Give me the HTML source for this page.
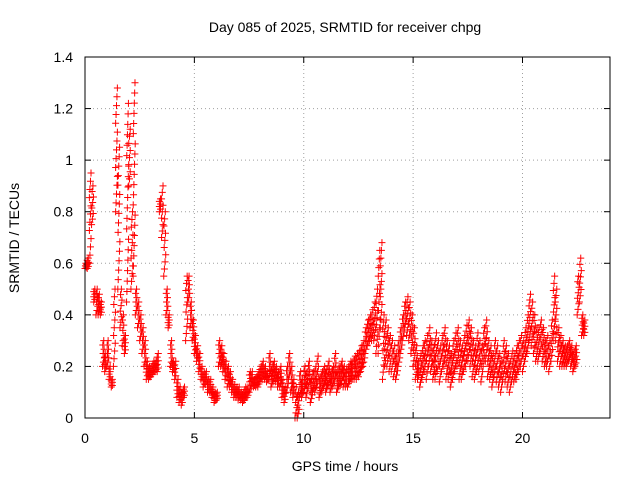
<!DOCTYPE html>
<html><head><meta charset="utf-8"><style>
html,body{margin:0;padding:0;background:#fff;}
svg{display:block;font-family:"Liberation Sans",sans-serif;}
</style></head><body>
<svg id="chart" width="640" height="480">
<text x="345" y="32" font-size="14" text-anchor="middle">Day 085 of 2025, SRMTID for receiver chpg</text>
<text x="345" y="471" font-size="14" text-anchor="middle">GPS time / hours</text>
<text x="19" y="238" font-size="14" text-anchor="middle" transform="rotate(-90 19 238)">SRMTID / TECUs</text>
<g id="grid"></g>
<g id="ticks"></g>
<g id="points"></g>
<rect x="85" y="57" width="525" height="361" fill="none" stroke="#000" stroke-width="1"></rect>
</svg>
<script>
const xTicks=[0,5,10,15,20];
const yTicks=[0,0.2,0.4,0.6,0.8,1,1.2,1.4];
const yTickLabels=["0","0.2","0.4","0.6","0.8","1","1.2","1.4"];
const tStart=0, tStep=0.1;
const hiVals=[.60,.62,.95,.90,.50,.50,.48,.45,.30,.25,.30,.20,.15,.50,1.28,1.05,.50,.40,.32,1.22,1.12,.80,1.30,.50,.45,.40,.35,.30,.22,.20,.20,.22,.22,.25,.85,.90,.80,.50,.40,.30,.22,.22,.15,.12,.10,.12,.55,.55,.45,.38,.32,.28,.25,.20,.18,.18,.15,.15,.12,.10,.10,.30,.28,.25,.22,.20,.18,.15,.13,.12,.12,.10,.10,.12,.12,.18,.18,.15,.16,.18,.20,.22,.20,.18,.25,.20,.22,.20,.18,.20,.15,.12,.20,.25,.20,.15,.12,.10,.18,.15,
.20,.18,.22,.15,.18,.20,.24,.16,.18,.20,.19,.22,.18,.20,.25,.18,.20,.22,.20,.19,
.20,.22,.22,.24,.25,.26,.28,.30,.35,.38,.40,.42,.45,.50,.65,.68,.40,.38,.35,.32,.30,.28,.25,.30,.35,.40,.45,.47,.45,.40,.35,.28,.22,.25,.28,.30,.32,.35,.30,.28,
.33,.30,.28,.32,.35,.30,.28,.25,.30,.33,.35,.30,.28,.32,.36,.38,.35,.30,.28,.33,.30,.28,.35,.38,.30,.28,.25,.30,.28,.25,.22,.30,.28,.25,.22,.26,.25,.28,.30,.32,
.30,.35,.40,.48,.45,.40,.35,.35,.38,.35,.30,.32,.30,.38,.55,.50,.35,.32,.30,.28,.28,.30,.28,.26,.28,.55,.62,.40,.38];
const loVals=[.58,.58,.60,.75,.45,.40,.40,.40,.20,.18,.20,.15,.12,.20,.80,.50,.35,.28,.25,.45,.90,.50,.55,.40,.35,.30,.25,.20,.15,.15,.16,.17,.18,.18,.80,.70,.55,.40,.35,.20,.18,.15,.08,.06,.05,.08,.30,.45,.35,.30,.25,.22,.18,.15,.12,.13,.10,.10,.08,.06,.07,.20,.20,.18,.15,.12,.12,.10,.08,.08,.07,.07,.06,.07,.08,.10,.12,.12,.12,.12,.14,.15,.15,.14,.15,.12,.14,.14,.12,.12,.08,.06,.10,.15,.10,.08,.00,.00,.08,.08,
.10,.08,.12,.06,.10,.10,.12,.08,.10,.12,.10,.12,.10,.12,.14,.10,.12,.13,.12,.12,
.12,.14,.15,.15,.15,.16,.18,.20,.25,.28,.30,.30,.30,.25,.25,.35,.15,.20,.20,.18,.18,.16,.15,.20,.25,.30,.35,.32,.30,.25,.20,.15,.15,.12,.15,.18,.15,.20,.18,.15,
.15,.18,.14,.18,.20,.15,.15,.12,.15,.18,.20,.15,.15,.18,.20,.22,.20,.16,.15,.18,.18,.14,.20,.22,.16,.15,.12,.16,.14,.12,.10,.15,.14,.12,.10,.14,.14,.15,.18,.20,
.18,.22,.25,.30,.28,.25,.22,.22,.25,.22,.20,.20,.18,.22,.30,.30,.22,.20,.20,.20,.20,.22,.20,.18,.20,.40,.45,.32,.32];
const X0=85,X1=610,Y0=418,Y1=57;
const xs=t=>X0+(t/24)*(X1-X0);
const ys=v=>Y0-(v/1.4)*(Y0-Y1);
const NS="http://www.w3.org/2000/svg";
const grid=document.getElementById('grid'),ticks=document.getElementById('ticks'),pts=document.getElementById('points');
function mk(tag,attrs,parent){const e=document.createElementNS(NS,tag);for(const k in attrs)e.setAttribute(k,attrs[k]);parent.appendChild(e);return e;}
yTicks.forEach((v,i)=>{const y=ys(v);
 if(i>0&&i<yTicks.length-1){const g=mk('line',{x1:X0,x2:X1,y1:y,y2:y,stroke:'#a0a0a0','stroke-dasharray':'1,3'},grid);}
 mk('line',{x1:X0,x2:X0+6,y1:y,y2:y,stroke:'#000'},ticks);mk('line',{x1:X1,x2:X1-6,y1:y,y2:y,stroke:'#000'},ticks);
 const t=mk('text',{x:73,y:y+5,'font-size':14,'text-anchor':'end'},ticks);t.textContent=yTickLabels[i];
 
 
});
xTicks.forEach(v=>{const x=xs(v);
 if(v>0){const g=mk('line',{x1:x,x2:x,y1:Y0,y2:Y1,stroke:'#a0a0a0','stroke-dasharray':'1,3'},grid);}
 mk('line',{x1:x,x2:x,y1:Y0,y2:Y0-6,stroke:'#000'},ticks);mk('line',{x1:x,x2:x,y1:Y1,y2:Y1+6,stroke:'#000'},ticks);
 const t=mk('text',{x:x,y:443,'font-size':14,'text-anchor':'middle'},ticks);t.textContent=String(v);
 
 
});
let d='';
hiVals.forEach((hi,i)=>{const lo=loVals[i];const t=tStart+i*tStep;
 const n=5+Math.round((hi-lo)*20);
 for(let k=0;k<n;k++){
  const f=k/(n-1);
  const x=xs(t+((k*3)%n)*tStep/n),y=ys(lo+(hi-lo)*f);
  d+=`M${x-3.5},${y}h7M${x},${y-3.5}v7`;}
});
const p=mk('path',{d:d,stroke:'#f00','stroke-width':1,fill:'none'},pts);


</script>
</body></html>
